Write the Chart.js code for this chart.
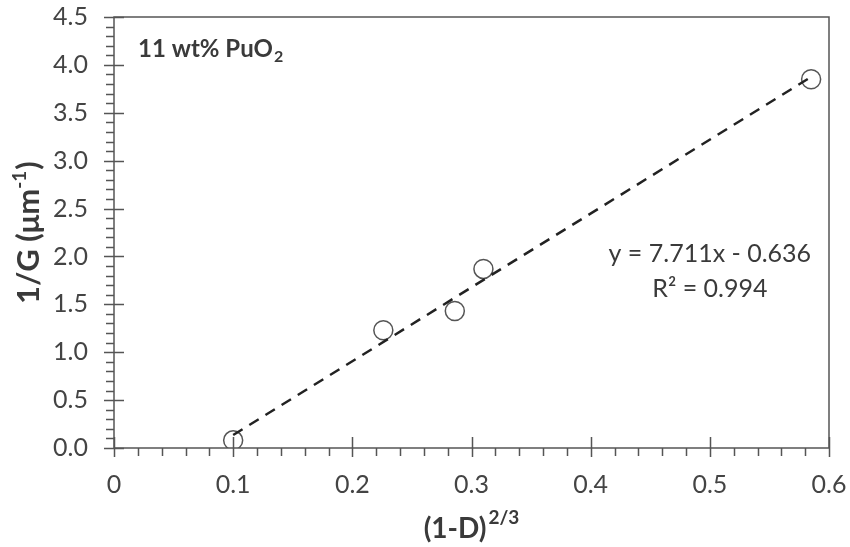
<!DOCTYPE html>
<html>
<head>
<meta charset="utf-8">
<script src="https://cdn.jsdelivr.net/npm/chart.js@4"></script>
<style>
  html, body { margin: 0; padding: 0; background: #fff; }
  #wrap { width: 850px; height: 547px; }
</style>
</head>
<body>
<div id="wrap"><canvas id="c" width="850" height="547"></canvas></div>
<script>
// ---- data ----
const xValues = [0.100, 0.226, 0.286, 0.310, 0.585];
const yValues = [0.08, 1.23, 1.43, 1.87, 3.85];
const fitSlope = 7.711;
const fitIntercept = -0.636;
const fitRange = [0.100, 0.585];
const xTicks = [0, 0.1, 0.2, 0.3, 0.4, 0.5, 0.6];
const yTicks = [0, 0.5, 1.0, 1.5, 2.0, 2.5, 3.0, 3.5, 4.0, 4.5];
const eqLabel = 'y = 7.711x - 0.636';
const r2Label = 'R² = 0.994';

const pts = xValues.map((x, i) => ({ x: x, y: yValues[i] }));
const fitPts = fitRange.map(x => ({ x: x, y: fitSlope * x + fitIntercept }));

const FONT = 'Lato, "Open Sans", sans-serif';
const TXT = '#3a3a3a';
const AX = '#555';

function zeroPad(s) {
  s.paddingLeft = 0; s.paddingRight = 0; s.paddingTop = 0; s.paddingBottom = 0;
}

const decor = {
  id: 'decor',
  afterDraw(chart) {
    const ctx = chart.ctx;
    const xs = chart.scales.x, ys = chart.scales.y;
    const a = chart.chartArea;
    ctx.save();
    // frame
    ctx.strokeStyle = AX;
    ctx.lineWidth = 1.5;
    ctx.strokeRect(a.left, a.top, a.right - a.left, a.bottom - a.top);
    // y ticks
    ctx.beginPath();
    for (let i = 0; i <= 45; i++) {
      const v = i / 10;
      const py = Math.round(ys.getPixelForValue(v)) + 0.5;
      if (i % 5 === 0) { ctx.moveTo(a.left - 10, py); ctx.lineTo(a.left + 10, py); }
      else { ctx.moveTo(a.left - 8, py); ctx.lineTo(a.left, py); }
    }
    // x ticks
    for (let i = 0; i <= 30; i++) {
      const v = i / 50;
      const px = Math.round(xs.getPixelForValue(v)) + 0.5;
      if (i % 5 === 0) { ctx.moveTo(px, a.bottom - 11); ctx.lineTo(px, a.bottom + 9); }
      else { ctx.moveTo(px, a.bottom); ctx.lineTo(px, a.bottom + 8); }
    }
    ctx.stroke();

    ctx.fillStyle = TXT;
    ctx.textBaseline = 'alphabetic';
    // annotation 11 wt% PuO2
    ctx.font = 'bold 24px ' + FONT;
    ctx.textAlign = 'left';
    const ax0 = a.left + 24, ay0 = a.top + 40;
    const t1 = '11 wt% PuO';
    ctx.fillText(t1, ax0, ay0);
    const w1 = ctx.measureText(t1).width;
    ctx.font = 'bold 16px ' + FONT;
    ctx.fillText('2', ax0 + w1 + 1, ay0 + 5);

    // equation
    ctx.font = '25px ' + FONT;
    ctx.textAlign = 'center';
    const ex = xs.getPixelForValue(0.5);
    ctx.fillText(eqLabel, ex, 262);
    ctx.fillText(r2Label, ex, 297);

    // x title
    const xt = '(1-D)';
    ctx.font = 'bold 28px ' + FONT;
    const wx = ctx.measureText(xt).width;
    ctx.font = 'bold 19px ' + FONT;
    const ws = ctx.measureText('2/3').width;
    const cx = (a.left + a.right) / 2;
    const x0 = cx - (wx + ws + 2) / 2;
    ctx.textAlign = 'left';
    ctx.font = 'bold 28px ' + FONT;
    ctx.fillText(xt, x0, 538);
    ctx.font = 'bold 19px ' + FONT;
    ctx.fillText('2/3', x0 + wx + 2, 524);

    // y title (rotated)
    ctx.translate(39, (a.top + a.bottom) / 2);
    ctx.rotate(-Math.PI / 2);
    ctx.font = 'bold 31px ' + FONT;
    const y1 = '1/G (μm', y2 = '-1', y3 = ')';
    const wa = ctx.measureText(y1).width;
    const wc = ctx.measureText(y3).width;
    ctx.font = 'bold 19px ' + FONT;
    const wb = ctx.measureText(y2).width;
    const tot = wa + wb + wc + 1;
    let px = -tot / 2;
    ctx.font = 'bold 31px ' + FONT;
    ctx.fillText(y1, px, 0);
    px += wa;
    ctx.font = 'bold 19px ' + FONT;
    ctx.fillText(y2, px, -13);
    px += wb + 1;
    ctx.font = 'bold 31px ' + FONT;
    ctx.fillText(y3, px, 0);
    ctx.restore();
  }
};

new Chart(document.getElementById('c'), {
  type: 'scatter',
  data: {
    datasets: [
      {
        type: 'line',
        data: fitPts,
        borderColor: '#222',
        borderWidth: 2.5,
        borderDash: [11, 8],
        pointRadius: 0,
        fill: false,
        order: 0
      },
      {
        data: pts,
        pointStyle: 'circle',
        pointRadius: 9.5,
        borderColor: '#555',
        borderWidth: 1.5,
        backgroundColor: 'rgba(0,0,0,0)',
        order: 1
      }
    ]
  },
  plugins: [decor],
  options: {
    responsive: false,
    animation: false,
    events: [],
    layout: { padding: { left: 0, top: 17, right: 21, bottom: 0 } },
    plugins: { legend: { display: false }, tooltip: { enabled: false } },
    scales: {
      x: {
        type: 'linear',
        min: 0, max: 0.6,
        afterBuildTicks: s => { s.ticks = xTicks.map(v => ({ value: v })); },
        afterFit: s => { s.height = 99; zeroPad(s); },
        grid: { display: false, drawTicks: false },
        border: { display: false },
        ticks: {
          padding: 22,
          color: '#444',
          font: { family: FONT, size: 25 },
          maxRotation: 0,
          callback: v => (v === 0 ? '0' : v.toFixed(1))
        }
      },
      y: {
        type: 'linear',
        min: 0, max: 4.5,
        afterBuildTicks: s => { s.ticks = yTicks.map(v => ({ value: v })); },
        afterFit: s => { s.width = 114; zeroPad(s); },
        grid: { display: false, drawTicks: false },
        border: { display: false },
        ticks: {
          padding: 26,
          color: '#444',
          font: { family: FONT, size: 25 },
          callback: v => v.toFixed(1)
        }
      }
    }
  }
});
</script>
</body>
</html>
